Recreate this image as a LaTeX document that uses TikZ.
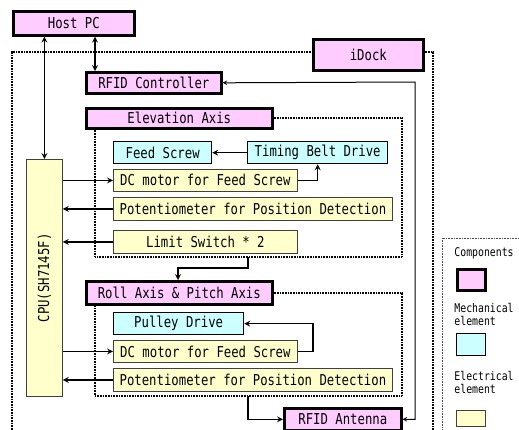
\documentclass[tikz,border=0pt]{standalone}
\usepackage{fontspec}
\newfontfamily\gothic[FakeStretch=0.82]{DejaVu Sans Mono}
\usetikzlibrary{calc,positioning,arrows}
\definecolor{CompPink}{RGB}{255,204,255}
\definecolor{MechCyan}{RGB}{204,255,255}
\definecolor{ElecYellow}{RGB}{255,255,204}

\begin{document}
\begin{tikzpicture}[x=1pt, y=-1pt, >=stealth, thick,
	   every node/.style={font=\gothic\fontsize{15}{15}\selectfont, inner sep=0pt, anchor=north west},
	   boxsize/.style 2 args = {minimum width=#1, minimum height=#2},
	   component/.style = {rectangle, draw=black, line width=2.6pt, fill=CompPink},
	   mechanical/.style = {rectangle, draw=black, line width=1.3pt, fill=MechCyan},
	   electrical/.style = {rectangle, draw=black!75, line width=0.8pt, fill=ElecYellow},
	   group/.style = {line width=2pt, dash pattern=on 1pt off 0.6pt},
	   link/.style = {line width=1.6pt},
	   legendtext/.style = {font=\gothic\fontsize{12}{12.5}\selectfont, align=left}]
	\useasboundingbox (0,0) rectangle (519,429);

	%% Host and dock
	\node [component, boxsize={121}{24}] (host) at (12,10) {Host PC};
	\node [component, boxsize={110}{31}] (idock) at (312,38) {iDock};
	\node [component, boxsize={135}{21}] (rfidc) at (85,71) {RFID Controller};

	%% Elevation axis
	\node [component, boxsize={186}{20}] (elev) at (85,107) {Elevation Axis};
	\node [mechanical, boxsize={98}{22}] (feed) at (113,141) {Feed Screw};
	\node [mechanical, boxsize={140}{22}] (tbd) at (247,141) {Timing Belt Drive};
	\node [electrical, boxsize={184}{22}] (dcm1) at (113,169) {DC motor for Feed Screw};
	\node [electrical, boxsize={279}{23}] (pot1) at (113,197) {Potentiometer for Position Detection};
	\node [electrical, boxsize={184}{23}] (limit) at (113,230) {Limit Switch * 2};

	%% CPU
	\node [electrical, boxsize={36}{237}] (cpu) at (26,159) {\rotatebox{90}{CPU(SH7145F)}};

	%% Roll and pitch axis
	\node [component, boxsize={186}{23}] (roll) at (85,280) {Roll Axis \& Pitch Axis};
	\node [mechanical, boxsize={130}{22}] (pulley) at (113,312) {Pulley Drive};
	\node [electrical, boxsize={184}{22}] (dcm2) at (113,340) {DC motor for Feed Screw};
	\node [electrical, boxsize={279}{23}] (pot2) at (113,368) {Potentiometer for Position Detection};
	\node [component, boxsize={117}{22}] (antenna) at (283,407) {RFID Antenna};

	%% Group frames
	\coordinate (dockL) at (12,52);
	\coordinate (dockR) at (433,52);
	\draw [group] (12,440) -- (dockL) -- (dockL -| idock.west);
	\draw [group] (dockR -| idock.east) -- (dockR) -- (433,440);
	\coordinate (elevSE) at (402,257);
	\draw [group] (elev.east) -| (elevSE) -| ([xshift=10pt]elev.south west);
	\coordinate (rollSE) at (402,396);
	\draw [group] (roll.east) -| (rollSE) -| ([xshift=10pt]roll.south west);

	%% Legend
	\draw [black!70, line width=0.6pt, densely dotted] (525,238) -- (442,238) -- (442,440);
	\node [legendtext, anchor=west] (legcomp) at (454,253) {Components};
	\node [component, boxsize={28}{21}] (legpink) at (456,268) {};
	\node [legendtext] (legmech) at (454,303) {Mechanical\\element};
	\node [mechanical, boxsize={29}{22}] (legcyan) at (456,333) {};
	\node [legendtext] (legelec) at (454,371) {Electrical\\element};
	\node [electrical, boxsize={29}{16}] (legyellow) at (456,410) {};

	%% Simple paths
	\draw [link,<->] (cpu.north) -- (cpu.north |- host.south);
	\draw [link,<->] ([xshift=10pt]rfidc.north west) -- ([xshift=10pt]rfidc.north west |- host.south);
	\draw [link,->] (tbd.west) -- (feed.east);
	\draw [link,->] (dcm1.east) -| (tbd.south);
	\draw [link,->] (cpu.east |- dcm1) -- (dcm1.west);
	\draw [link,->] (pot1.west) -- (pot1.west -| cpu.east);
	\draw [link,->] (limit.west) -- (limit.west -| cpu.east);
	\draw [link,->] (cpu.east |- dcm2) -- (dcm2.west);
	\draw [link,->] (pot2.west) -- (pot2.west -| cpu.east);
	\draw [link,->] (dcm2.east) -- ++(15,0) |- (pulley.east);

	%% Complex paths
	\coordinate (elevout) at (248,257);
	\draw [link,->] (elevout) -- ++(0,11) -| ([xshift=93pt]roll.north west);
	\coordinate (rollout) at (248,396);
	\draw [link,->] (rollout) |- (antenna.west);
	\coordinate (bus) at (415,82);
	\draw [line width=1pt,<->] (antenna.east) -| (bus) -- (rfidc.east);
\end{tikzpicture}
\end{document}
